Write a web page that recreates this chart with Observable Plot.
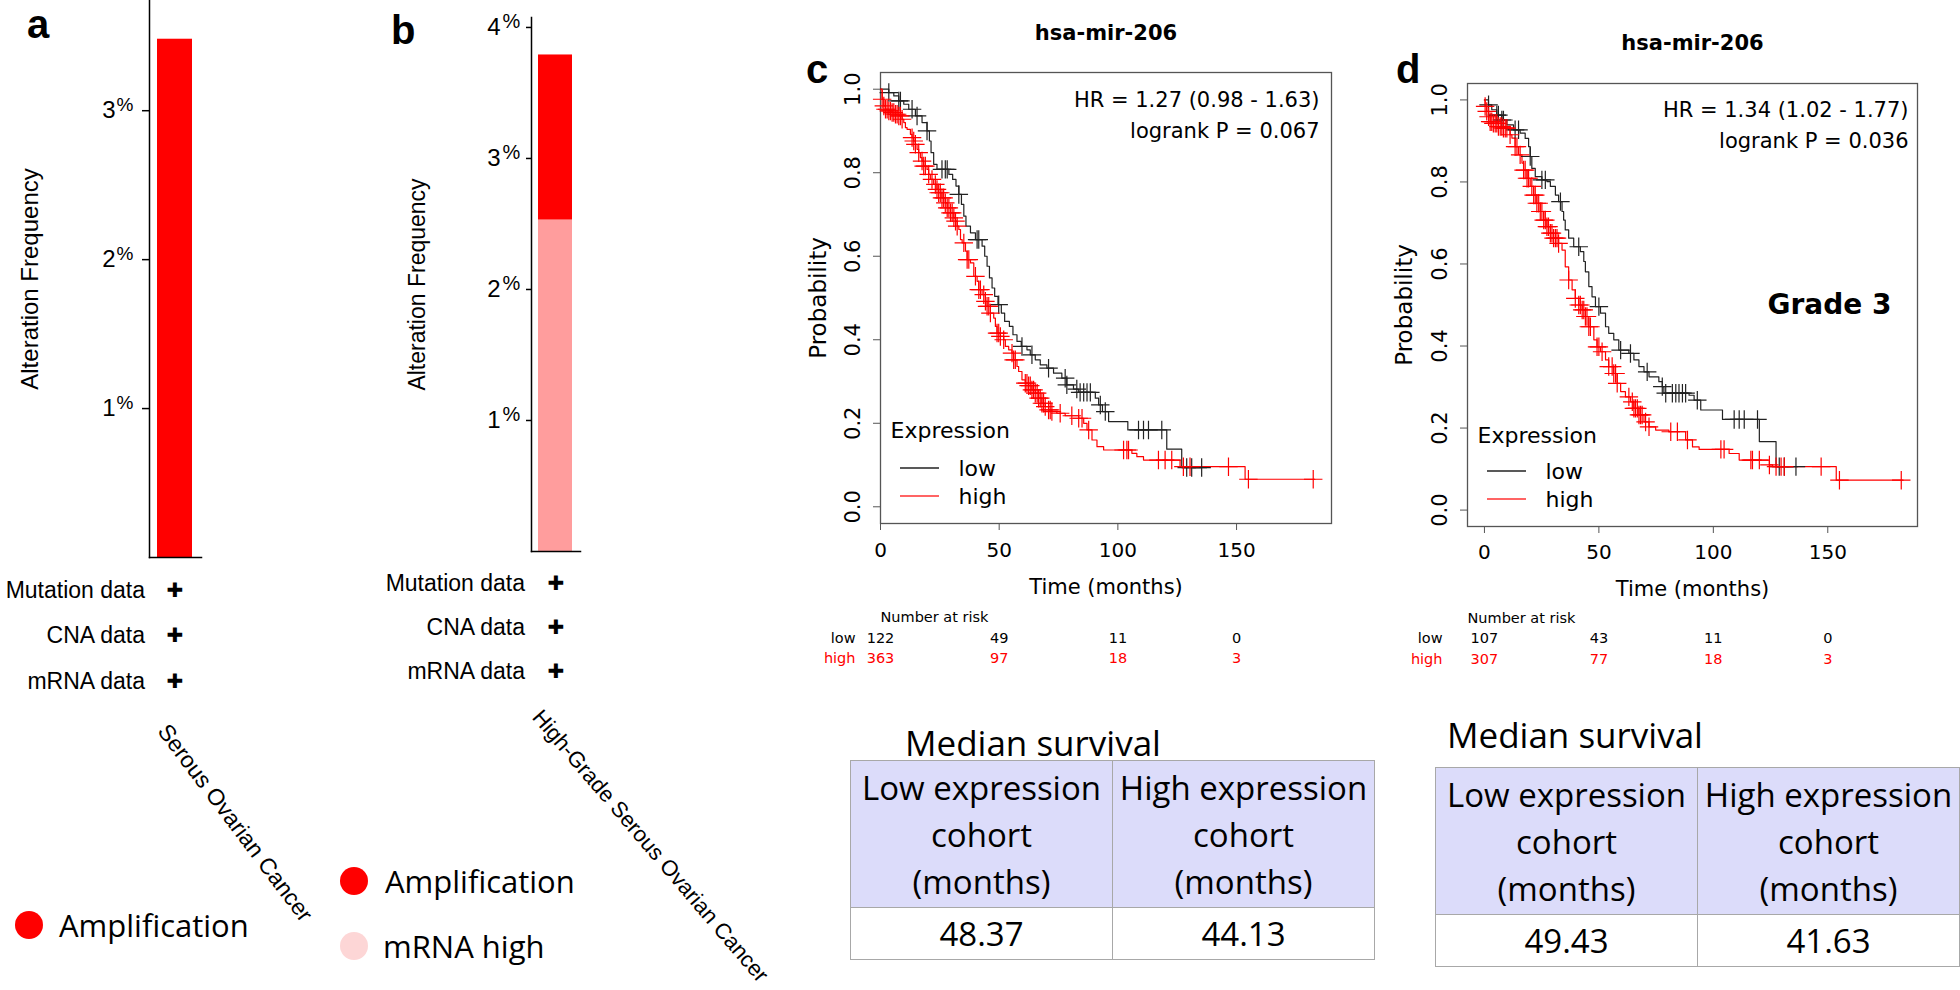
<!DOCTYPE html>
<html><head><meta charset="utf-8">
<script src="https://cdn.jsdelivr.net/npm/d3@7"></script>
<script src="https://cdn.jsdelivr.net/npm/@observablehq/plot@0.6"></script>
<style>
html,body{margin:0;padding:0;background:#fff;}
#root{position:relative;width:1960px;height:990px;overflow:hidden;background:#fff;}
.abs{position:absolute;white-space:nowrap;color:#000;}
.letter{font-family:"Liberation Sans",Arial,sans-serif;font-weight:bold;font-size:40px;line-height:1;}
.lab{font-family:"Liberation Sans",Arial,sans-serif;font-size:23px;line-height:30px;height:30px;}
.rot{font-family:"Liberation Sans",Arial,sans-serif;font-size:22px;line-height:1;transform-origin:0 0;}
.plus{font-family:"DejaVu Sans",sans-serif;font-size:20px;line-height:30px;height:30px;width:30px;text-align:center;}
.leg{font-family:"Open Sans",sans-serif;font-size:31px;line-height:40px;height:40px;}
.dotk{border-radius:50%;width:28px;height:28px;}
.mtitle{font-family:"Open Sans",sans-serif;font-size:35px;line-height:44px;height:44px;}
table.ms{position:absolute;border-collapse:collapse;font-family:"Open Sans",sans-serif;font-size:33px;color:#000;table-layout:fixed;}
table.ms td{border:1.5px solid #a8a8a8;text-align:center;vertical-align:middle;padding:0;}
table.ms tr.h td{background:#dcdcfa;line-height:47px;height:146px;}
table.ms tr.v td{background:#fff;line-height:40px;height:51px;}
</style></head>
<body><div id="root"></div>
<script>
// ---------------- Panels a & b: alteration frequency ----------------
const aCancer = ["Serous Ovarian Cancer"];
const aType = ["Amplification"];
const aValue = [3.48];
const bCancer = ["High-Grade Serous Ovarian Cancer", "High-Grade Serous Ovarian Cancer"];
const bType = ["mRNA high", "Amplification"];
const bValue = [2.53, 1.26];
const aTicks = [1, 2, 3];
const bTicks = [1, 2, 3, 4];
const alterTypes = ["Amplification", "mRNA high"];
const alterColors = ["#ff0000", "#ff9d9d"];
const legendColors = ["#ff0000", "#fdd6d6"];
const dataRows = ["Mutation data", "CNA data", "mRNA data"];

// ---------------- Panels c & d: Kaplan-Meier ----------------
const kmTitle = "hsa-mir-206";
const kmXTicks = [0, 50, 100, 150];
const kmYTicks = [0, 0.2, 0.4, 0.6, 0.8, 1.0];
const riskTimes = [0, 50, 100, 150];
const groups = ["low", "high"];

const cLowT = [0,3.5,5.6,7.7,9.8,11.9,14.7,17.5,19.6,20.6,21.3,22.4,23.8,28.8,30.4,31.8,33.0,34.1,35.1,36.0,37.9,40.0,42.8,43.9,44.9,45.9,47.0,48.1,49.5,50.9,52.3,54.3,55.8,57.5,59.3,61.7,63.1,65.2,67.3,70.1,72.9,76.4,78.5,81.3,83.5,90.5,91.9,93.5,96.1,104.2,120.6,126.9,137.4];
const cLowS = [1.0,0.992,0.984,0.972,0.964,0.952,0.936,0.92,0.90,0.876,0.848,0.82,0.808,0.796,0.784,0.768,0.748,0.724,0.696,0.672,0.656,0.64,0.624,0.60,0.576,0.548,0.524,0.504,0.484,0.464,0.444,0.432,0.412,0.396,0.384,0.376,0.364,0.352,0.34,0.332,0.32,0.308,0.292,0.282,0.274,0.26,0.244,0.228,0.204,0.184,0.138,0.094,0.094];
const cLowCens = [3.5,7.7,8.4,13.3,15.4,19.6,25.9,27.3,28.1,33.0,40.7,41.4,49.8,59.6,63.8,70.8,77.8,78.5,82.7,84.1,85.6,87.0,88.4,92.6,94.7,108.7,110.8,112.9,118.5,129.0,131.1,135.3];
const cHighT = [0,0.7,1.4,2.1,3.5,4.9,6.3,7.7,9.1,9.8,10.5,11.2,12.6,13.3,14.0,14.7,15.4,16.1,16.8,17.5,18.2,19.6,20.3,21.0,22.4,23.8,24.5,25.9,27.3,28.1,29.5,30.9,31.6,32.3,33.0,33.7,34.4,35.8,36.5,37.9,39.3,40.7,41.4,42.8,44.2,44.9,46.3,47.7,48.4,49.1,50.5,51.9,52.6,54.0,55.4,56.1,57.5,58.2,59.6,61.0,62.4,63.8,65.2,66.6,68.0,69.4,70.8,72.2,74.3,77.8,83.5,85.6,87.0,89.1,91.2,94.0,105.9,108.0,110.8,126.2,153.6,183.0];
const cHighS = [1.0,0.976,0.96,0.952,0.948,0.944,0.94,0.936,0.928,0.92,0.908,0.904,0.892,0.884,0.876,0.868,0.856,0.848,0.836,0.828,0.816,0.808,0.796,0.784,0.772,0.76,0.752,0.74,0.728,0.716,0.704,0.692,0.684,0.672,0.664,0.64,0.632,0.612,0.592,0.584,0.552,0.54,0.52,0.508,0.492,0.48,0.464,0.452,0.432,0.416,0.408,0.40,0.384,0.376,0.368,0.352,0.336,0.324,0.304,0.296,0.29,0.28,0.272,0.26,0.248,0.24,0.232,0.228,0.224,0.218,0.212,0.2,0.184,0.16,0.144,0.136,0.128,0.12,0.112,0.096,0.066,0.066];
const cHighCens = [0.7,1.4,2.1,2.8,3.5,4.2,4.9,5.6,6.3,7.0,7.7,8.4,9.1,13.3,14.0,14.7,16.1,17.5,18.2,18.9,20.3,21.7,23.1,23.8,24.5,25.2,25.9,26.6,27.3,28.1,28.8,29.5,30.2,30.9,31.6,32.3,35.1,36.5,37.2,40.0,41.4,42.1,43.5,44.2,44.9,45.6,46.3,49.1,49.8,50.5,51.9,55.4,56.1,56.8,61.0,61.7,62.4,63.1,63.8,64.5,65.2,66.0,66.6,67.3,68.0,68.7,69.4,70.8,71.5,72.2,75.7,80.6,83.5,84.9,87.7,102.4,103.8,104.5,117.1,119.9,122.7,127.6,130.4,146.6,155.0,182.3];
const cRiskLow = [122, 49, 11, 0];
const cRiskHigh = [363, 97, 18, 3];
const cHR = "HR = 1.27 (0.98 - 1.63)";
const cP = "logrank P = 0.067";

const dLowT = [0,1.75,3.2,5.4,7.6,9.8,12.7,15.6,17.8,19.3,20.0,20.7,22.2,25.1,27.3,28.8,31.0,32.4,33.9,34.6,35.3,36.8,39.0,41.9,43.4,44.1,45.6,47.0,48.5,50.7,52.9,54.3,56.5,58.7,63.1,65.3,67.5,69.7,71.9,76.2,77.7,78.4,89.4,91.6,94.5,104.0,120.1,127.4,136.9];
const dLowS = [1.0,0.988,0.976,0.963,0.951,0.939,0.927,0.919,0.906,0.886,0.862,0.833,0.813,0.805,0.801,0.789,0.768,0.752,0.728,0.707,0.683,0.663,0.642,0.630,0.606,0.581,0.545,0.52,0.496,0.480,0.447,0.431,0.415,0.390,0.382,0.366,0.35,0.337,0.325,0.313,0.301,0.285,0.280,0.268,0.244,0.221,0.167,0.106,0.106];
const dLowCens = [1.8,5.4,6.1,7.6,8.3,13.4,14.9,20.0,25.1,26.6,33.2,41.2,50.0,59.5,63.8,71.1,77.7,79.2,82.1,83.6,85.0,86.5,87.9,93.0,109.1,111.3,113.5,119.3,128.8,131.0,136.1];
const dHighT = [0,0.3,1.0,1.75,2.5,3.9,6.1,8.3,10.5,11.2,12.0,13.4,14.9,16.4,17.1,18.6,20.0,21.5,22.9,24.4,25.9,27.3,28.8,30.2,32.4,33.9,35.3,36.8,38.3,39.7,41.2,42.7,44.1,45.6,47.8,49.2,50.7,52.9,54.3,56.5,58.0,59.5,61.6,63.8,65.3,67.5,69.7,71.9,74.8,80.6,87.9,90.9,93.8,106.9,111.3,124.5,125.9,153.7,182.9];
const dHighS = [1.0,0.984,0.972,0.959,0.947,0.943,0.935,0.931,0.927,0.915,0.907,0.886,0.866,0.846,0.829,0.809,0.789,0.768,0.748,0.728,0.707,0.691,0.675,0.663,0.650,0.634,0.593,0.561,0.537,0.516,0.5,0.488,0.472,0.447,0.415,0.398,0.386,0.366,0.35,0.333,0.309,0.289,0.276,0.264,0.248,0.232,0.215,0.203,0.195,0.191,0.171,0.154,0.148,0.138,0.122,0.110,0.106,0.073,0.073];
const dHighCens = [0.3,1.0,1.8,2.5,3.2,3.9,4.7,5.4,6.1,6.9,7.6,8.3,9.1,9.8,11.2,13.4,14.2,15.6,17.1,17.8,18.6,19.3,20.7,21.5,22.2,22.9,23.7,24.4,25.1,25.9,26.6,27.3,28.0,28.8,29.5,30.2,31.0,31.7,32.4,36.8,39.7,41.2,41.9,42.7,43.4,44.1,44.8,45.6,46.3,49.2,50.0,51.4,54.3,55.8,56.5,57.3,58.0,63.1,64.6,65.3,66.0,66.8,67.5,68.2,68.9,70.4,71.9,81.4,84.3,88.7,103.3,104.7,116.4,117.1,120.1,124.5,127.4,129.6,131.0,147.1,155.1,182.1];
const dRiskLow = [107, 43, 11, 0];
const dRiskHigh = [307, 77, 18, 3];
const dHR = "HR = 1.34 (1.02 - 1.77)";
const dP = "logrank P = 0.036";
const dNote = "Grade 3";

// ---------------- Median survival tables ----------------
const medianTitle = "Median survival";
const medianHeaders = [["Low expression", "cohort", "(months)"], ["High expression", "cohort", "(months)"]];
const medianC = ["48.37", "44.13"];
const medianD = ["49.43", "41.63"];

// ================= build =================
const root = document.getElementById("root");
function place(node, left, top, width) {
  const w = document.createElement("div");
  w.style.position = "absolute"; w.style.left = left + "px"; w.style.top = top + "px"; w.style.width = width + "px";
  w.appendChild(node); root.appendChild(w); return w;
}
function addDiv(text, cls, style) {
  const d = document.createElement("div");
  d.className = "abs " + cls; d.textContent = text; Object.assign(d.style, style); root.appendChild(d); return d;
}

// Panel a
const aRows = aCancer.map((c, i) => ({cancer: c, type: aType[i], value: aValue[i]}));
const plotA = Plot.plot({
  width: 240, height: 560,
  marginLeft: 149, marginRight: 39, marginTop: 0, marginBottom: 3,
  style: {fontFamily: "Liberation Sans", fontSize: "23px", background: "transparent", overflow: "visible", color: "#000"},
  x: {type: "band", domain: aCancer, padding: 0.182, axis: null},
  y: {domain: [0, 3.74]},
  color: {domain: alterTypes, range: alterColors},
  marks: [
    Plot.barY(aRows, {x: "cancer", y: "value", fill: "type"}),
    Plot.axisY(aTicks, {tickSize: 7, tickPadding: 27, tickFormat: d => String(d), label: null, fontSize: 24, strokeWidth: 1.5}),
    Plot.text(aTicks, {y: d => d, frameAnchor: "left", text: () => "%", textAnchor: "start", lineAnchor: "middle", dx: -33, dy: -6, fontSize: 19}),
    Plot.text(["Alteration Frequency"], {frameAnchor: "left", dx: -119, rotate: -90, textAnchor: "middle", lineAnchor: "middle", fontSize: 24}),
    Plot.frame({anchor: "left", strokeWidth: 1.5}),
    Plot.frame({anchor: "bottom", strokeWidth: 1.5})
  ]
});
place(plotA, 0, 0, 240);

// Panel b
const bRows = bCancer.map((c, i) => ({cancer: c, type: bType[i], value: bValue[i]}));
const plotB = Plot.plot({
  width: 290, height: 560,
  marginLeft: 201, marginRight: 40, marginTop: 17, marginBottom: 9,
  style: {fontFamily: "Liberation Sans", fontSize: "23px", background: "transparent", overflow: "visible", color: "#000"},
  x: {type: "band", domain: [bCancer[0]], padding: 0.167, axis: null},
  y: {domain: [0, 4.076]},
  color: {domain: alterTypes, range: alterColors},
  marks: [
    Plot.barY(bRows, {x: "cancer", y: "value", fill: "type"}),
    Plot.axisY(bTicks, {tickSize: 5, tickPadding: 26, tickFormat: d => String(d), label: null, fontSize: 24, strokeWidth: 1.5}),
    Plot.text(bTicks, {y: d => d, frameAnchor: "left", text: () => "%", textAnchor: "start", lineAnchor: "middle", dx: -29, dy: -6, fontSize: 20}),
    Plot.text(["Alteration Frequency"], {frameAnchor: "left", dx: -114, rotate: -90, textAnchor: "middle", lineAnchor: "middle", fontSize: 23}),
    Plot.frame({anchor: "left", strokeWidth: 1.5}),
    Plot.frame({anchor: "bottom", strokeWidth: 1.5})
  ]
});
place(plotB, 330, 0, 290);

// data-type rows under a and b
const aRowY = [590, 635, 681], bRowY = [583, 627, 671];
dataRows.forEach((t, i) => {
  addDiv(t, "lab", {right: (1960 - 145) + "px", top: (aRowY[i] - 15) + "px"});
  addDiv("\u271A", "plus", {left: (175 - 15) + "px", top: (aRowY[i] - 15) + "px"});
  addDiv(t, "lab", {right: (1960 - 525) + "px", top: (bRowY[i] - 15) + "px"});
  addDiv("\u271A", "plus", {left: (556 - 15) + "px", top: (bRowY[i] - 15) + "px"});
});
addDiv(aCancer[0], "rot", {left: "172px", top: "720px", transform: "rotate(53deg)", fontSize: "23px"});
addDiv(bCancer[0], "rot", {left: "545px", top: "706px", transform: "rotate(49.5deg)", fontSize: "22px"});

// legends
addDiv("", "dotk", {left: "15px", top: "911px", background: legendColors[0]});
addDiv(alterTypes[0], "leg", {left: "59px", top: "905px"});
addDiv("", "dotk", {left: "340px", top: "867px", background: legendColors[0]});
addDiv(alterTypes[0], "leg", {left: "385px", top: "861px"});
addDiv("", "dotk", {left: "340px", top: "932px", background: legendColors[1]});
addDiv(alterTypes[1], "leg", {left: "383px", top: "926px"});

// panel letters
addDiv("a", "letter", {left: "27px", top: "4px"});
addDiv("b", "letter", {left: "391px", top: "10px"});
addDiv("c", "letter", {left: "806px", top: "49px"});
addDiv("d", "letter", {left: "1396px", top: "49px"});

// KM plots
function stepAt(T, S, t) { let v = S[0]; for (let i = 0; i < T.length; i++) { if (T[i] <= t) v = S[i]; else break; } return v; }
const LOWC = "#222", HIGHC = "#ff0000";
function km(o) {
  const low = o.lowT.map((t, i) => ({t, s: o.lowS[i]}));
  const high = o.highT.map((t, i) => ({t, s: o.highS[i]}));
  const lowC = o.lowCens.map(t => ({t, s: stepAt(o.lowT, o.lowS, t)}));
  const highC = o.highCens.map(t => ({t, s: stepAt(o.highT, o.highS, t)}));
  const legendLines = (index, scales, values, dims) => {
    const g = d3.create("svg:g");
    const x0 = dims.marginLeft, yb = dims.height - dims.marginBottom;
    [[LOWC, -55], ["#ff3030", -27]].forEach(([c, dy]) =>
      g.append("line").attr("x1", x0 + 20).attr("x2", x0 + 59).attr("y1", yb + dy).attr("y2", yb + dy)
        .attr("stroke", c).attr("stroke-width", 1.5));
    return g.node();
  };
  const T = (extra) => Object.assign({lineAnchor: "middle"}, extra);
  const marks = [
    Plot.frame({stroke: "#555", strokeWidth: 1.3}),
    Plot.axisX(kmXTicks, {tickSize: 7, tickPadding: o.xPad, label: null, fontSize: 20, stroke: "#555"}),
    Plot.axisY(kmYTicks, {tickSize: 7, tickFormat: () => "", label: null, stroke: "#555"}),
    Plot.text(kmYTicks, T({y: d => d, frameAnchor: "left", dx: -27, rotate: -90, textAnchor: "middle", text: d => d.toFixed(1), fontSize: 21})),
    Plot.line(low, {x: "t", y: "s", curve: "step-after", stroke: LOWC, strokeWidth: 1.2}),
    Plot.line(high, {x: "t", y: "s", curve: "step-after", stroke: HIGHC, strokeWidth: 1.2}),
    Plot.dot(lowC, {x: "t", y: "s", symbol: "plus", r: 6, stroke: LOWC, strokeWidth: 1.2}),
    Plot.dot(highC, {x: "t", y: "s", symbol: "plus", r: 6, stroke: HIGHC, strokeWidth: 1.2}),
    Plot.text([kmTitle], T({frameAnchor: "top", dy: o.titleDy, fontWeight: "bold", fontSize: 21})),
    Plot.text([o.hr], T({frameAnchor: "top-right", dx: o.hrDx, dy: o.hrDy, textAnchor: "end", fontSize: 21})),
    Plot.text([o.p], T({frameAnchor: "top-right", dx: o.hrDx, dy: o.hrDy + 31, textAnchor: "end", fontSize: 21})),
    Plot.text(["Probability"], T({frameAnchor: "left", dx: o.probDx, rotate: -90, textAnchor: "middle", fontSize: 23})),
    Plot.text(["Time (months)"], T({frameAnchor: "bottom", dy: o.timeDy, fontSize: 21})),
    Plot.text(["Expression"], T({frameAnchor: "bottom-left", dx: 10, dy: o.exprDy, textAnchor: "start", fontSize: 22})),
    Plot.text([groups[0]], T({frameAnchor: "bottom-left", dx: 78, dy: -55, textAnchor: "start", fontSize: 22})),
    Plot.text([groups[1]], T({frameAnchor: "bottom-left", dx: 78, dy: -27, textAnchor: "start", fontSize: 22})),
    legendLines,
    Plot.text(["Number at risk"], T({frameAnchor: "bottom-left", dy: o.riskDy[0], textAnchor: "start", fontSize: 14.5})),
    Plot.text([groups[0]], T({frameAnchor: "bottom-left", dx: -25, dy: o.riskDy[1], textAnchor: "end", fontSize: 14.5, fill: "#000"})),
    Plot.text([groups[1]], T({frameAnchor: "bottom-left", dx: -25, dy: o.riskDy[2], textAnchor: "end", fontSize: 14.5, fill: HIGHC})),
    Plot.text(riskTimes, T({x: d => d, text: (d, i) => String(o.riskLow[i]), frameAnchor: "bottom", dy: o.riskDy[1], fontSize: 14.5, fill: "#000"})),
    Plot.text(riskTimes, T({x: d => d, text: (d, i) => String(o.riskHigh[i]), frameAnchor: "bottom", dy: o.riskDy[2], fontSize: 14.5, fill: HIGHC}))
  ];
  if (o.note) marks.push(Plot.text([o.note], T({frameAnchor: "right", dx: -26, textAnchor: "end", fontWeight: "bold", fontSize: 28})));
  return Plot.plot({
    width: o.width, height: o.height,
    marginLeft: o.ml, marginRight: o.mr, marginTop: o.mt, marginBottom: o.mb,
    style: {fontFamily: "DejaVu Sans", fontSize: "20px", background: "transparent", overflow: "visible", color: "#000"},
    x: {domain: o.xDomain},
    y: {domain: [-0.04, 1.04]},
    marks
  });
}

const plotC = km({
  width: 580, height: 680, ml: 90, mr: 39, mt: 72, mb: 157, xDomain: [0, 190],
  lowT: cLowT, lowS: cLowS, lowCens: cLowCens, highT: cHighT, highS: cHighS, highCens: cHighCens,
  hr: cHR, p: cP, riskLow: cRiskLow, riskHigh: cRiskHigh,
  xPad: 12, titleDy: -39, hrDx: -12, hrDy: 28, probDx: -62, timeDy: 64, exprDy: -93, riskDy: [94, 115, 135]
});
place(plotC, 790, 0, 580);

const plotD = km({
  width: 590, height: 690, ml: 97, mr: 43, mt: 83, mb: 164, xDomain: [-7.4, 189.2],
  lowT: dLowT, lowS: dLowS, lowCens: dLowCens, highT: dHighT, highS: dHighS, highCens: dHighCens,
  hr: dHR, p: dP, riskLow: dRiskLow, riskHigh: dRiskHigh, note: dNote,
  xPad: 11, titleDy: -40, hrDx: -9, hrDy: 27, probDx: -63, timeDy: 63, exprDy: -91, riskDy: [92, 112, 133]
});
place(plotD, 1370, 0, 590);

// Median survival tables
function medianTable(values, left, top, titleLeft, titleCenter) {
  addDiv(medianTitle, "mtitle", {left: titleLeft + "px", top: (titleCenter - 22) + "px"});
  const t = document.createElement("table");
  t.className = "ms";
  t.style.left = left + "px"; t.style.top = top + "px"; t.style.width = "525px";
  const trh = document.createElement("tr"); trh.className = "h";
  medianHeaders.forEach(h => { const td = document.createElement("td"); td.innerHTML = h.join("<br>"); trh.appendChild(td); });
  const trv = document.createElement("tr"); trv.className = "v";
  values.forEach(v => { const td = document.createElement("td"); td.textContent = v; trv.appendChild(td); });
  t.appendChild(trh); t.appendChild(trv);
  root.appendChild(t);
}
medianTable(medianC, 850, 760, 905, 743);
medianTable(medianD, 1435, 767, 1447, 735);
</script></body></html>
